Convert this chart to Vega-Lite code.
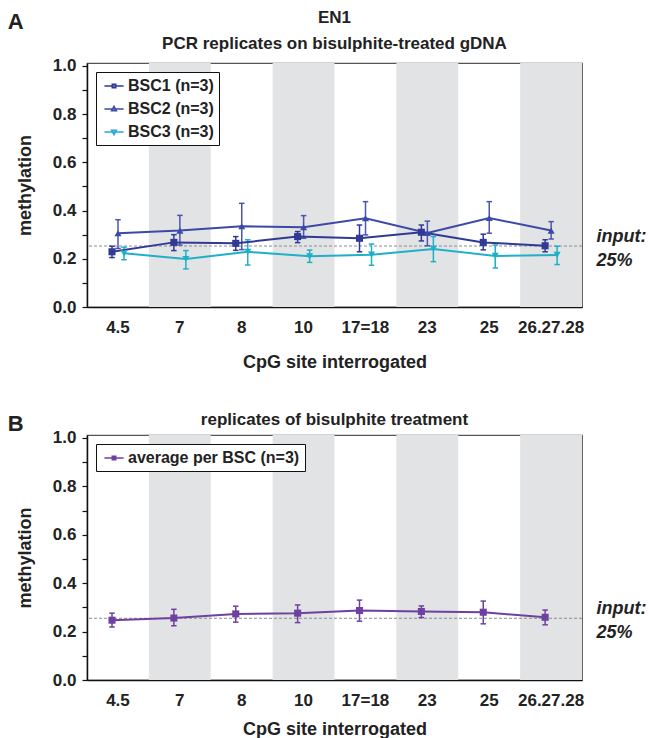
{
  "$schema": "https://vega.github.io/schema/vega-lite/v6.json",
  "padding": {"left": 7, "top": 8, "right": 2, "bottom": 0},
  "background": "white",
  "datasets": {
    "a": [
      {"site": "4.5", "series": "BSC1 (n=3)", "mean": 0.229, "lo": 0.205, "hi": 0.252},
      {"site": "7", "series": "BSC1 (n=3)", "mean": 0.268, "lo": 0.234, "hi": 0.300},
      {"site": "8", "series": "BSC1 (n=3)", "mean": 0.264, "lo": 0.235, "hi": 0.292},
      {"site": "10", "series": "BSC1 (n=3)", "mean": 0.292, "lo": 0.267, "hi": 0.313},
      {"site": "17=18", "series": "BSC1 (n=3)", "mean": 0.285, "lo": 0.229, "hi": 0.340},
      {"site": "23", "series": "BSC1 (n=3)", "mean": 0.310, "lo": 0.274, "hi": 0.340},
      {"site": "25", "series": "BSC1 (n=3)", "mean": 0.268, "lo": 0.237, "hi": 0.302},
      {"site": "26.27.28", "series": "BSC1 (n=3)", "mean": 0.254, "lo": 0.229, "hi": 0.279},
      {"site": "4.5", "series": "BSC2 (n=3)", "mean": 0.306, "lo": 0.243, "hi": 0.362},
      {"site": "7", "series": "BSC2 (n=3)", "mean": 0.317, "lo": 0.257, "hi": 0.380},
      {"site": "8", "series": "BSC2 (n=3)", "mean": 0.335, "lo": 0.238, "hi": 0.430},
      {"site": "10", "series": "BSC2 (n=3)", "mean": 0.331, "lo": 0.285, "hi": 0.379},
      {"site": "17=18", "series": "BSC2 (n=3)", "mean": 0.368, "lo": 0.299, "hi": 0.437},
      {"site": "23", "series": "BSC2 (n=3)", "mean": 0.307, "lo": 0.254, "hi": 0.356},
      {"site": "25", "series": "BSC2 (n=3)", "mean": 0.369, "lo": 0.306, "hi": 0.437},
      {"site": "26.27.28", "series": "BSC2 (n=3)", "mean": 0.317, "lo": 0.282, "hi": 0.354},
      {"site": "4.5", "series": "BSC3 (n=3)", "mean": 0.223, "lo": 0.196, "hi": 0.248},
      {"site": "7", "series": "BSC3 (n=3)", "mean": 0.199, "lo": 0.158, "hi": 0.234},
      {"site": "8", "series": "BSC3 (n=3)", "mean": 0.229, "lo": 0.174, "hi": 0.279},
      {"site": "10", "series": "BSC3 (n=3)", "mean": 0.210, "lo": 0.185, "hi": 0.236},
      {"site": "17=18", "series": "BSC3 (n=3)", "mean": 0.217, "lo": 0.173, "hi": 0.261},
      {"site": "23", "series": "BSC3 (n=3)", "mean": 0.241, "lo": 0.188, "hi": 0.292},
      {"site": "25", "series": "BSC3 (n=3)", "mean": 0.212, "lo": 0.162, "hi": 0.257},
      {"site": "26.27.28", "series": "BSC3 (n=3)", "mean": 0.216, "lo": 0.176, "hi": 0.252}
    ],
    "b": [
      {"site": "4.5", "series": "average per BSC (n=3)", "mean": 0.247, "lo": 0.219, "hi": 0.276},
      {"site": "7", "series": "average per BSC (n=3)", "mean": 0.256, "lo": 0.224, "hi": 0.292},
      {"site": "8", "series": "average per BSC (n=3)", "mean": 0.273, "lo": 0.239, "hi": 0.305},
      {"site": "10", "series": "average per BSC (n=3)", "mean": 0.276, "lo": 0.237, "hi": 0.310},
      {"site": "17=18", "series": "average per BSC (n=3)", "mean": 0.287, "lo": 0.243, "hi": 0.330},
      {"site": "23", "series": "average per BSC (n=3)", "mean": 0.283, "lo": 0.258, "hi": 0.306},
      {"site": "25", "series": "average per BSC (n=3)", "mean": 0.280, "lo": 0.232, "hi": 0.326},
      {"site": "26.27.28", "series": "average per BSC (n=3)", "mean": 0.259, "lo": 0.228, "hi": 0.289}
    ],
    "bands": [{"site": "7"}, {"site": "10"}, {"site": "23"}, {"site": "26.27.28"}],
    "refA": [{"input": 0.253}],
    "refB": [{"input": 0.255}]
  },
  "resolve": {"scale": {"color": "independent", "shape": "independent", "xOffset": "independent"}, "legend": {"color": "independent", "shape": "independent"}},
  "spacing": 38,
  "vconcat": [
    {
      "title": {"text": "A", "anchor": "start", "frame": "bounds", "offset": -26, "dx": -8, "fontSize": 22},
      "resolve": {"scale": {"color": "independent", "shape": "independent", "xOffset": "independent"}, "legend": {"color": "independent", "shape": "independent"}},
      "vconcat": [
        {
          "width": 495, "height": 244,
          "title": {"text": ["EN1", "PCR replicates on bisulphite-treated gDNA"], "anchor": "middle", "frame": "group", "offset": 4, "lineHeight": 26},
          "data": {"name": "a"},
          "resolve": {"axis": {"y": "independent"}, "scale": {"xOffset": "independent"}},
          "layer": [
            {
              "data": {"name": "bands"},
              "mark": {"type": "bar", "color": "#e2e3e5"},
              "encoding": {
                "x": {"field": "site", "type": "nominal", "scale": {"type": "band", "domain": ["4.5", "7", "8", "10", "17=18", "23", "25", "26.27.28"], "paddingInner": 0, "paddingOuter": 0}, "axis": {"title": "CpG site interrogated", "labelAngle": 0, "ticks": false, "labelPadding": 12, "titlePadding": 18}}
              }
            },
            {
              "data": {"name": "refA"},
              "mark": {"type": "rule", "color": "#8c8c8c", "strokeDash": [3, 2], "strokeWidth": 1},
              "encoding": {
                "y": {"field": "input", "type": "quantitative", "scale": {"domain": [0, 1.012], "nice": false}, "axis": {"orient": "right", "title": null, "values": [0.253], "labelExpr": "['input:', '25%']", "labelFontStyle": "italic", "labelFontSize": 18, "labelAlign": "left", "labelBaseline": "middle", "labelLineHeight": 24, "labelOffset": -10, "ticks": false, "domain": false, "labelPadding": 14, "labelOverlap": false, "labelBound": false, "labelFlush": false}}
              }
            },
            {
              "mark": {"type": "rule", "strokeWidth": 1.5},
              "encoding": {
                "x": {"field": "site", "type": "nominal", "scale": {"type": "band", "domain": ["4.5", "7", "8", "10", "17=18", "23", "25", "26.27.28"], "paddingInner": 0, "paddingOuter": 0}, "axis": {"title": "CpG site interrogated", "labelAngle": 0, "ticks": false, "labelPadding": 12, "titlePadding": 18}},
                "xOffset": {"field": "series", "type": "nominal", "scale": {"type": "point", "domain": ["BSC1 (n=3)", "BSC2 (n=3)", "BSC3 (n=3)"], "range": [25, 37], "padding": 0}},
                "y": {"field": "lo", "type": "quantitative", "scale": {"domain": [0, 1.012], "nice": false}, "axis": null},
                "y2": {"field": "hi"},
                "stroke": {"condition": [{"test": "datum.series === 'BSC1 (n=3)'", "value": "#303a94"}, {"test": "datum.series === 'BSC2 (n=3)'", "value": "#4a56ad"}], "value": "#1fb0c8"}
              }
            },
            {
              "mark": {"type": "point", "shape": "stroke", "size": 30, "strokeWidth": 1.5, "filled": false, "opacity": 1},
              "encoding": {
                "x": {"field": "site", "type": "nominal", "scale": {"type": "band", "domain": ["4.5", "7", "8", "10", "17=18", "23", "25", "26.27.28"], "paddingInner": 0, "paddingOuter": 0}, "axis": {"title": "CpG site interrogated", "labelAngle": 0, "ticks": false, "labelPadding": 12, "titlePadding": 18}},
                "xOffset": {"field": "series", "type": "nominal", "scale": {"type": "point", "domain": ["BSC1 (n=3)", "BSC2 (n=3)", "BSC3 (n=3)"], "range": [25, 37], "padding": 0}},
                "y": {"field": "lo", "type": "quantitative", "scale": {"domain": [0, 1.012], "nice": false}, "axis": null},
                "stroke": {"condition": [{"test": "datum.series === 'BSC1 (n=3)'", "value": "#303a94"}, {"test": "datum.series === 'BSC2 (n=3)'", "value": "#4a56ad"}], "value": "#1fb0c8"}
              }
            },
            {
              "mark": {"type": "point", "shape": "stroke", "size": 30, "strokeWidth": 1.5, "filled": false, "opacity": 1},
              "encoding": {
                "x": {"field": "site", "type": "nominal", "scale": {"type": "band", "domain": ["4.5", "7", "8", "10", "17=18", "23", "25", "26.27.28"], "paddingInner": 0, "paddingOuter": 0}, "axis": {"title": "CpG site interrogated", "labelAngle": 0, "ticks": false, "labelPadding": 12, "titlePadding": 18}},
                "xOffset": {"field": "series", "type": "nominal", "scale": {"type": "point", "domain": ["BSC1 (n=3)", "BSC2 (n=3)", "BSC3 (n=3)"], "range": [25, 37], "padding": 0}},
                "y": {"field": "hi", "type": "quantitative", "scale": {"domain": [0, 1.012], "nice": false}, "axis": null},
                "stroke": {"condition": [{"test": "datum.series === 'BSC1 (n=3)'", "value": "#303a94"}, {"test": "datum.series === 'BSC2 (n=3)'", "value": "#4a56ad"}], "value": "#1fb0c8"}
              }
            },
            {
              "mark": {"type": "line", "strokeWidth": 2},
              "encoding": {
                "x": {"field": "site", "type": "nominal", "scale": {"type": "band", "domain": ["4.5", "7", "8", "10", "17=18", "23", "25", "26.27.28"], "paddingInner": 0, "paddingOuter": 0}, "axis": {"title": "CpG site interrogated", "labelAngle": 0, "ticks": false, "labelPadding": 12, "titlePadding": 18}},
                "xOffset": {"field": "series", "type": "nominal", "scale": {"type": "point", "domain": ["BSC1 (n=3)", "BSC2 (n=3)", "BSC3 (n=3)"], "range": [25, 37], "padding": 0}},
                "y": {"field": "mean", "type": "quantitative", "scale": {"domain": [0, 1.012], "nice": false}, "axis": {"orient": "left", "title": "methylation", "values": [0, 0.1, 0.2, 0.3, 0.4, 0.5, 0.6, 0.7, 0.8, 0.9, 1], "labelExpr": "round(datum.value*10) % 2 == 0 ? format(datum.value, '.1f') : ''", "tickSize": 5, "labelPadding": 6, "titlePadding": 18}},
                "detail": {"field": "series", "type": "nominal"},
                "stroke": {"condition": [{"test": "datum.series === 'BSC1 (n=3)'", "value": "#303a94"}, {"test": "datum.series === 'BSC2 (n=3)'", "value": "#3d49a6"}], "value": "#1fb0c8"},
                "order": {"value": null}
              }
            },
            {
              "mark": {"type": "point", "filled": true, "opacity": 1, "size": 50},
              "encoding": {
                "x": {"field": "site", "type": "nominal", "scale": {"type": "band", "domain": ["4.5", "7", "8", "10", "17=18", "23", "25", "26.27.28"], "paddingInner": 0, "paddingOuter": 0}, "axis": {"title": "CpG site interrogated", "labelAngle": 0, "ticks": false, "labelPadding": 12, "titlePadding": 18}},
                "xOffset": {"field": "series", "type": "nominal", "scale": {"type": "point", "domain": ["BSC1 (n=3)", "BSC2 (n=3)", "BSC3 (n=3)"], "range": [25, 37], "padding": 0}},
                "y": {"field": "mean", "type": "quantitative", "scale": {"domain": [0, 1.012], "nice": false}, "axis": null},
                "shape": {"condition": [{"test": "datum.series === 'BSC1 (n=3)'", "value": "square"}, {"test": "datum.series === 'BSC2 (n=3)'", "value": "triangle-up"}], "value": "triangle-down"},
                "fill": {"condition": [{"test": "datum.series === 'BSC1 (n=3)'", "value": "#303a94"}, {"test": "datum.series === 'BSC2 (n=3)'", "value": "#3d49a6"}], "value": "#1fb0c8"}
              }
            },
            {
              "mark": {"type": "point", "filled": false, "opacity": 0, "size": 256, "strokeWidth": 1.5},
              "encoding": {
                "x": {"field": "site", "type": "nominal", "scale": {"type": "band", "domain": ["4.5", "7", "8", "10", "17=18", "23", "25", "26.27.28"], "paddingInner": 0, "paddingOuter": 0}, "axis": {"title": "CpG site interrogated", "labelAngle": 0, "ticks": false, "labelPadding": 12, "titlePadding": 18}},
                "y": {"field": "mean", "type": "quantitative", "scale": {"domain": [0, 1.012], "nice": false}, "axis": null},
                "shape": {"field": "series", "type": "nominal", "scale": {"domain": ["BSC1 (n=3)", "BSC2 (n=3)", "BSC3 (n=3)"], "range": ["M-1.2,0H1.2M-0.22,-0.22H0.22V0.22H-0.22Z", "M-1.2,0H1.2M0,-0.33L0.3,0.22H-0.3Z", "M-1.2,0H1.2M0,0.33L0.3,-0.22H-0.3Z"]},
                  "legend": {"title": null, "orient": "top-left", "offset": 9, "padding": 5, "strokeColor": "#111", "fillColor": "white", "labelFontSize": 16, "labelFontWeight": "bold", "labelColor": "#222", "labelLimit": 300, "symbolSize": 256, "rowPadding": 6, "labelOffset": 5, "symbolOffset": 4, "symbolOpacity": 1, "symbolStrokeWidth": 1.5}},
                "color": {"field": "series", "type": "nominal", "scale": {"domain": ["BSC1 (n=3)", "BSC2 (n=3)", "BSC3 (n=3)"], "range": ["#303a94", "#3d49a6", "#2aa5dc"]},
                  "legend": {"title": null, "orient": "top-left", "offset": 9, "padding": 5, "strokeColor": "#111", "fillColor": "white", "labelFontSize": 16, "labelFontWeight": "bold", "labelColor": "#222", "labelLimit": 300, "symbolSize": 256, "rowPadding": 6, "labelOffset": 5, "symbolOffset": 4, "symbolOpacity": 1, "symbolStrokeWidth": 1.5}}
              }
            }
          ]
        }
      ]
    },
    {
      "title": {"text": "B", "anchor": "start", "frame": "bounds", "offset": -26, "dx": -8, "fontSize": 22},
      "resolve": {"scale": {"color": "independent", "shape": "independent", "xOffset": "independent"}, "legend": {"color": "independent", "shape": "independent"}},
      "vconcat": [
        {
          "width": 495, "height": 245,
          "title": {"text": "replicates of bisulphite treatment", "anchor": "middle", "frame": "group", "offset": 0},
          "data": {"name": "b"},
          "resolve": {"axis": {"y": "independent"}, "scale": {"xOffset": "independent"}},
          "layer": [
            {
              "data": {"name": "bands"},
              "mark": {"type": "bar", "color": "#e2e3e5"},
              "encoding": {
                "x": {"field": "site", "type": "nominal", "scale": {"type": "band", "domain": ["4.5", "7", "8", "10", "17=18", "23", "25", "26.27.28"], "paddingInner": 0, "paddingOuter": 0}, "axis": {"title": "CpG site interrogated", "labelAngle": 0, "ticks": false, "labelPadding": 12, "titlePadding": 12}}
              }
            },
            {
              "data": {"name": "refB"},
              "mark": {"type": "rule", "color": "#8c8c8c", "strokeDash": [3, 2], "strokeWidth": 1},
              "encoding": {
                "y": {"field": "input", "type": "quantitative", "scale": {"domain": [0, 1.012], "nice": false}, "axis": {"orient": "right", "title": null, "values": [0.255], "labelExpr": "['input:', '25%']", "labelFontStyle": "italic", "labelFontSize": 18, "labelAlign": "left", "labelBaseline": "middle", "labelLineHeight": 24, "labelOffset": -10, "ticks": false, "domain": false, "labelPadding": 14, "labelOverlap": false, "labelBound": false, "labelFlush": false}}
              }
            },
            {
              "mark": {"type": "rule", "strokeWidth": 1.5, "color": "#7040a0"},
              "encoding": {
                "x": {"field": "site", "type": "nominal", "scale": {"type": "band", "domain": ["4.5", "7", "8", "10", "17=18", "23", "25", "26.27.28"], "paddingInner": 0, "paddingOuter": 0}, "axis": {"title": "CpG site interrogated", "labelAngle": 0, "ticks": false, "labelPadding": 12, "titlePadding": 12}},
                "xOffset": {"field": "series", "type": "nominal", "scale": {"type": "point", "domain": ["average per BSC (n=3)"], "range": [25, 25], "padding": 0}},
                "y": {"field": "lo", "type": "quantitative", "scale": {"domain": [0, 1.012], "nice": false}, "axis": null},
                "y2": {"field": "hi"}
              }
            },
            {
              "mark": {"type": "point", "shape": "stroke", "size": 30, "strokeWidth": 1.5, "filled": false, "opacity": 1, "color": "#7040a0"},
              "encoding": {
                "x": {"field": "site", "type": "nominal", "scale": {"type": "band", "domain": ["4.5", "7", "8", "10", "17=18", "23", "25", "26.27.28"], "paddingInner": 0, "paddingOuter": 0}, "axis": {"title": "CpG site interrogated", "labelAngle": 0, "ticks": false, "labelPadding": 12, "titlePadding": 12}},
                "xOffset": {"field": "series", "type": "nominal", "scale": {"type": "point", "domain": ["average per BSC (n=3)"], "range": [25, 25], "padding": 0}},
                "y": {"field": "lo", "type": "quantitative", "scale": {"domain": [0, 1.012], "nice": false}, "axis": null}
              }
            },
            {
              "mark": {"type": "point", "shape": "stroke", "size": 30, "strokeWidth": 1.5, "filled": false, "opacity": 1, "color": "#7040a0"},
              "encoding": {
                "x": {"field": "site", "type": "nominal", "scale": {"type": "band", "domain": ["4.5", "7", "8", "10", "17=18", "23", "25", "26.27.28"], "paddingInner": 0, "paddingOuter": 0}, "axis": {"title": "CpG site interrogated", "labelAngle": 0, "ticks": false, "labelPadding": 12, "titlePadding": 12}},
                "xOffset": {"field": "series", "type": "nominal", "scale": {"type": "point", "domain": ["average per BSC (n=3)"], "range": [25, 25], "padding": 0}},
                "y": {"field": "hi", "type": "quantitative", "scale": {"domain": [0, 1.012], "nice": false}, "axis": null}
              }
            },
            {
              "mark": {"type": "line", "strokeWidth": 2, "color": "#7040a0"},
              "encoding": {
                "x": {"field": "site", "type": "nominal", "scale": {"type": "band", "domain": ["4.5", "7", "8", "10", "17=18", "23", "25", "26.27.28"], "paddingInner": 0, "paddingOuter": 0}, "axis": {"title": "CpG site interrogated", "labelAngle": 0, "ticks": false, "labelPadding": 12, "titlePadding": 12}},
                "xOffset": {"field": "series", "type": "nominal", "scale": {"type": "point", "domain": ["average per BSC (n=3)"], "range": [25, 25], "padding": 0}},
                "y": {"field": "mean", "type": "quantitative", "scale": {"domain": [0, 1.012], "nice": false}, "axis": {"orient": "left", "title": "methylation", "values": [0, 0.1, 0.2, 0.3, 0.4, 0.5, 0.6, 0.7, 0.8, 0.9, 1], "labelExpr": "round(datum.value*10) % 2 == 0 ? format(datum.value, '.1f') : ''", "tickSize": 5, "labelPadding": 6, "titlePadding": 18}},
                "order": {"value": null}
              }
            },
            {
              "mark": {"type": "point", "filled": true, "opacity": 1, "size": 50, "shape": "square"},
              "encoding": {
                "x": {"field": "site", "type": "nominal", "scale": {"type": "band", "domain": ["4.5", "7", "8", "10", "17=18", "23", "25", "26.27.28"], "paddingInner": 0, "paddingOuter": 0}, "axis": {"title": "CpG site interrogated", "labelAngle": 0, "ticks": false, "labelPadding": 12, "titlePadding": 12}},
                "xOffset": {"field": "series", "type": "nominal", "scale": {"type": "point", "domain": ["average per BSC (n=3)"], "range": [25, 25], "padding": 0}},
                "y": {"field": "mean", "type": "quantitative", "scale": {"domain": [0, 1.012], "nice": false}, "axis": null},
                "color": {"field": "series", "type": "nominal", "scale": {"domain": ["average per BSC (n=3)"], "range": ["#7040a0"]},
                  "legend": {"title": null, "orient": "top-left", "offset": 9, "padding": 5, "strokeColor": "#111", "fillColor": "white", "labelFontSize": 16, "labelFontWeight": "bold", "labelColor": "#222", "labelLimit": 300, "symbolSize": 256, "labelOffset": 5, "symbolOffset": 4, "symbolType": "M-1.2,0H1.2M-0.22,-0.22H0.22V0.22H-0.22Z", "symbolStrokeWidth": 1.5, "symbolStrokeColor": "#7040a0", "symbolFillColor": "#7040a0"}
                }
              }
            }
          ]
        }
      ]
    }
  ],
  "config": {
    "font": "Liberation Sans",
    "view": {"stroke": "#555", "strokeWidth": 1.2},
    "axis": {"labelFont": "Liberation Sans", "labelFontSize": 17, "labelFontWeight": "bold", "labelColor": "#222", "titleFont": "Liberation Sans", "titleFontSize": 18, "titleFontWeight": "bold", "titleColor": "#222", "domainColor": "#111", "domainWidth": 1.5, "tickColor": "#111", "tickWidth": 1.2, "grid": false},
    "title": {"font": "Liberation Sans", "fontSize": 17, "fontWeight": "bold", "color": "#222"},
    "legend": {"labelFont": "Liberation Sans"}
  }
}
